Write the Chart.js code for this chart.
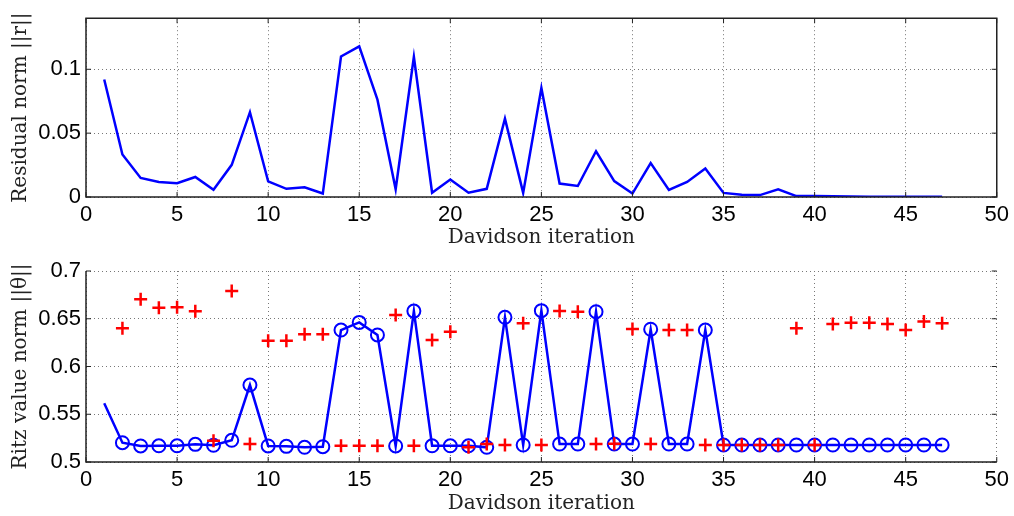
<!DOCTYPE html>
<html>
<head>
<meta charset="utf-8">
<script src="https://cdn.jsdelivr.net/npm/chart.js@4"></script>
<style>
  body { margin: 0; background: #fff; }
  #wrap { position: relative; width: 1014px; height: 516px; }
  .box { position: absolute; left: 0; width: 1014px; }
</style>
</head>
<body>
<div id="wrap">
  <div class="box" style="top:0;height:250px"><canvas id="residualChart"></canvas></div>
  <div class="box" style="top:250px;height:266px"><canvas id="ritzChart"></canvas></div>
</div>
<script>
// Davidson iterations
const iterations = [1, 2, 3, 4, 5, 6, 7, 8, 9, 10, 11, 12, 13, 14, 15, 16, 17, 18, 19, 20,
    21, 22, 23, 24, 25, 26, 27, 28, 29, 30, 31, 32, 33, 34, 35, 36, 37, 38, 39, 40,
    41, 42, 43, 44, 45, 46, 47];

// residual norm ||r||
const residualNorm = [0.092, 0.0333, 0.0149, 0.0118, 0.0108, 0.0157, 0.0056, 0.0252, 0.0664, 0.0123,
    0.0064, 0.0076, 0.0027, 0.110, 0.1179, 0.0762, 0.0061, 0.1098, 0.0034, 0.0137,
    0.0034, 0.0064, 0.0613, 0.0032, 0.0853, 0.0105, 0.0086, 0.0358, 0.0125, 0.0027,
    0.0265, 0.0056, 0.0118, 0.0223, 0.0032, 0.0017, 0.0015, 0.0061, 0.0007, 0.0007,
    0.0005, 0.0003, 0.0002, 0.0002, 0.0001, 0.0001, 0.0001];

// Ritz value norm ||theta||, selected (blue) and other (red)
const ritzSelected = [0.5615, 0.5202, 0.5168, 0.517, 0.517, 0.5185, 0.5175, 0.5227, 0.5806, 0.5168,
    0.5164, 0.5154, 0.516, 0.6382, 0.6462, 0.633, 0.5168, 0.658, 0.517, 0.517,
    0.517, 0.5154, 0.6515, 0.5178, 0.6585, 0.5188, 0.5188, 0.6574, 0.5188, 0.5188,
    0.639, 0.5188, 0.5188, 0.6382, 0.5178, 0.5178, 0.5178, 0.5178, 0.5178, 0.5178,
    0.5178, 0.5178, 0.5178, 0.5178, 0.5178, 0.5178, 0.5178];
const ritzOther = [null, 0.640, 0.6704, 0.6616, 0.662, 0.6578, 0.5223, 0.679, 0.5188, 0.627,
    0.627, 0.6337, 0.6337, 0.517, 0.517, 0.517, 0.654, 0.517, 0.6277, 0.6365,
    0.5154, 0.5188, 0.5178, 0.6452, 0.5178, 0.658, 0.6574, 0.5188, 0.519, 0.6393,
    0.5188, 0.6382, 0.6382, 0.5178, 0.5178, 0.5178, 0.5178, 0.5178, 0.640, 0.5178,
    0.6445, 0.6459, 0.6459, 0.6445, 0.6382, 0.647, 0.6452];

const xTicks = [0, 5, 10, 15, 20, 25, 30, 35, 40, 45, 50];
const residualTicks = [0, 0.05, 0.1];
const ritzTicks = [0.5, 0.55, 0.6, 0.65, 0.7];

const tickFont = { family: 'Liberation Sans', size: 22 };
const titleFont = { family: 'DejaVu Serif', size: 20 };

function points(ys) {
    return iterations.map((x, i) => ({ x: x, y: ys[i] }));
}

// draws the axes frame and inward tick marks, matlab style
function framePlugin(fullBox) {
    return {
        id: 'frame',
        afterDatasetsDraw(chart) {
            const ctx = chart.ctx;
            const a = chart.chartArea;
            const xs = chart.scales.x, ys = chart.scales.y;
            ctx.save();
            ctx.strokeStyle = '#222';
            ctx.lineWidth = 1.5;
            ctx.beginPath();
            if (fullBox) {
                ctx.rect(a.left, a.top, a.right - a.left, a.bottom - a.top);
            } else {
                ctx.moveTo(a.left, a.top);
                ctx.lineTo(a.left, a.bottom);
                ctx.lineTo(a.right, a.bottom);
            }
            ctx.stroke();
            ctx.lineWidth = 1;
            ctx.beginPath();
            xs.ticks.forEach(t => {
                const px = xs.getPixelForValue(t.value);
                ctx.moveTo(px, a.bottom);
                ctx.lineTo(px, a.bottom - 5);
                if (fullBox) {
                    ctx.moveTo(px, a.top);
                    ctx.lineTo(px, a.top + 5);
                }
            });
            ys.ticks.forEach(t => {
                const py = ys.getPixelForValue(t.value);
                ctx.moveTo(a.left, py);
                ctx.lineTo(a.left + 5, py);
                ctx.moveTo(a.right, py);
                ctx.lineTo(a.right - 5, py);
            });
            ctx.stroke();
            ctx.restore();
        }
    };
}

function axes(yMin, yMax, yTicks, yTitle, xHeight) {
    const grid = { color: '#777', drawTicks: false, lineWidth: 1 };
    const border = { display: false, dash: [1, 3] };
    return {
        x: {
            type: 'linear', min: 0, max: 50,
            afterBuildTicks: s => { s.ticks = xTicks.map(v => ({ value: v })); },
            afterFit: s => { s.height = xHeight; },
            grid: grid,
            border: border,
            ticks: { font: tickFont, color: '#000', padding: 5, maxRotation: 0 },
            title: { display: true, text: 'Davidson iteration', font: titleFont, color: '#222', padding: { top: -3, bottom: 0 } }
        },
        y: {
            min: yMin, max: yMax,
            afterBuildTicks: s => { s.ticks = yTicks.map(v => ({ value: v })); },
            afterFit: s => { s.width = 86; },
            grid: grid,
            border: border,
            ticks: { font: tickFont, color: '#000', padding: 5, callback: v => String(v) },
            title: { display: true, text: yTitle, font: titleFont, color: '#222', padding: { top: 9, bottom: 0 } }
        }
    };
}

new Chart(document.getElementById('residualChart'), {
    type: 'line',
    data: {
        datasets: [{
            data: points(residualNorm),
            borderColor: '#0000ff',
            borderWidth: 2.5,
            pointRadius: 0,
            tension: 0
        }]
    },
    options: {
        responsive: true,
        maintainAspectRatio: false,
        animation: false,
        layout: { padding: { top: 6, right: 17, left: 0, bottom: 0 } },
        plugins: { legend: { display: false }, tooltip: { enabled: false } },
        scales: axes(0, 0.14, residualTicks, 'Residual norm ||r||', 53)
    },
    plugins: [framePlugin(true)]
});

new Chart(document.getElementById('ritzChart'), {
    type: 'line',
    data: {
        datasets: [{
            data: points(ritzOther),
            showLine: false,
            pointStyle: 'cross',
            pointRadius: 6.5,
            pointBorderWidth: 2.5,
            borderColor: '#ff0000',
            order: 0
        }, {
            data: points(ritzSelected),
            borderColor: '#0000ff',
            borderWidth: 2.5,
            pointStyle: 'circle',
            pointBorderWidth: 2,
            pointBackgroundColor: 'rgba(0,0,0,0)',
            pointBorderColor: '#0000ff',
            pointRadius: iterations.map(x => x === 1 ? 0 : 6.5),
            tension: 0,
            order: 1
        }]
    },
    options: {
        responsive: true,
        maintainAspectRatio: false,
        animation: false,
        layout: { padding: { top: 21, right: 17, left: 0, bottom: 0 } },
        plugins: { legend: { display: false }, tooltip: { enabled: false } },
        scales: axes(0.5, 0.7, ritzTicks, 'Ritz value norm ||θ||', 54)
    },
    plugins: [framePlugin(false)]
});
</script>
</body>
</html>
